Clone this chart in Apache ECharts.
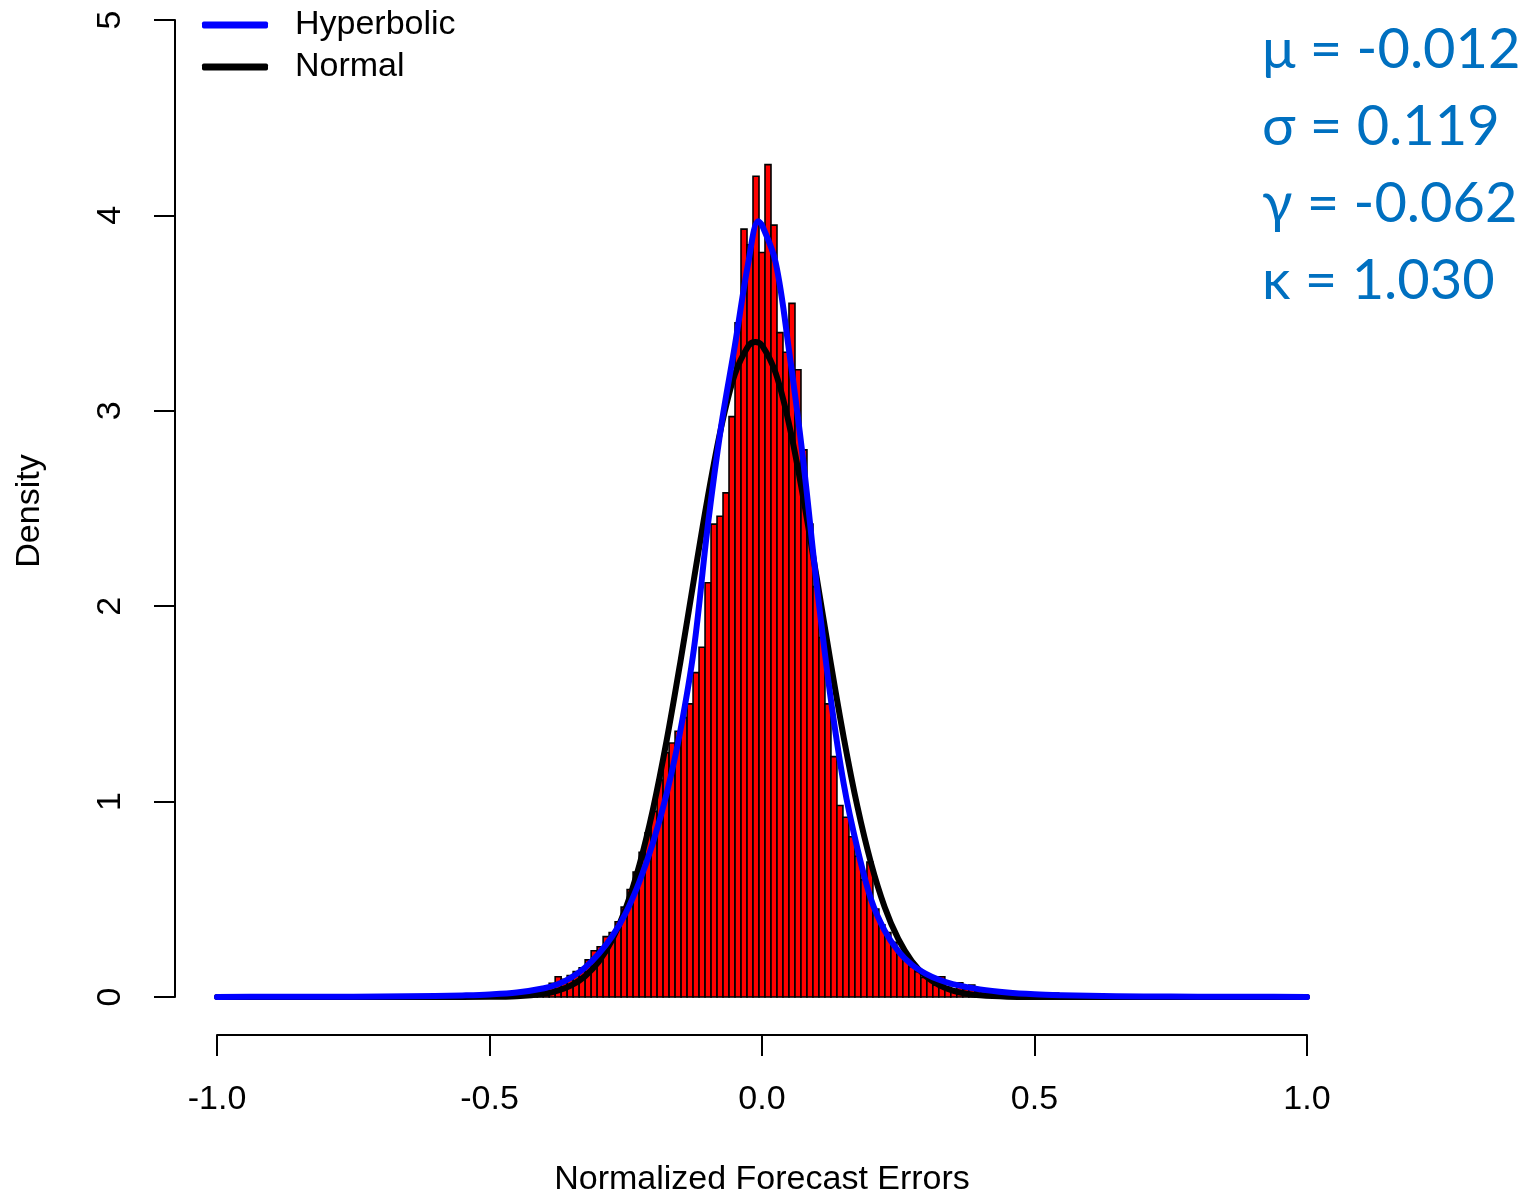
<!DOCTYPE html>
<html>
<head>
<meta charset="utf-8">
<script src="https://cdn.jsdelivr.net/npm/echarts@6/dist/echarts.min.js"></script>
<style>
  html, body { margin: 0; padding: 0; background: #ffffff; }
  #chart { width: 1532px; height: 1196px; }
</style>
</head>
<body>
<div id="chart"></div>
<script>
// Histogram of normalized forecast errors (density scale) with two fitted densities.

// histogram bins: equal width, first bin centred at firstBinCenter
const binWidth = 0.011;
const firstBinCenter = -0.44;
const binDensity = [
  0.005, 0.01, 0.015, 0.025, 0.04, 0.07, 0.104, 0.09, 0.11, 0.13,
  0.15, 0.19, 0.237, 0.257, 0.309, 0.33, 0.385, 0.46, 0.55, 0.64,
  0.74, 0.84, 0.95, 1.11, 1.25, 1.30, 1.36, 1.43, 1.50, 1.66,
  1.79, 2.12, 2.42, 2.46, 2.58, 2.97, 3.45, 3.93, 3.85, 4.20,
  3.81, 4.26, 3.95, 3.40, 3.30, 3.55, 3.21, 2.80, 2.42, 2.10,
  1.84, 1.50, 1.23, 0.98, 0.92, 0.82, 0.72, 0.60, 0.69, 0.45,
  0.37, 0.33, 0.28, 0.22, 0.19, 0.155, 0.13, 0.10, 0.085, 0.06,
  0.104, 0.05, 0.04, 0.073, 0.04, 0.061, 0.03, 0.02, 0.012, 0.008,
  0.005, 0.004, 0.003, 0.002, 0.003, 0.001, 0.001, 0.001, 0.001, 0.02
];

// fitted normal density
const normalX = [-1.0, -0.8, -0.6, -0.5, -0.45, -0.4, -0.375, -0.35, -0.325, -0.3,
  -0.275, -0.25, -0.225, -0.2, -0.175, -0.15, -0.125, -0.1, -0.075, -0.05,
  -0.025, -0.0125, 0.0, 0.025, 0.05, 0.075, 0.1, 0.125, 0.15, 0.175,
  0.2, 0.225, 0.25, 0.275, 0.3, 0.325, 0.35, 0.375, 0.4, 0.45,
  0.5, 0.6, 0.8, 1.0];
const normalY = [0, 0, 0.0002, 0.0007, 0.0038, 0.0165, 0.032, 0.0594, 0.1056, 0.179,
  0.292, 0.454, 0.675, 0.962, 1.312, 1.711, 2.136, 2.550, 2.914, 3.185,
  3.332, 3.352, 3.335, 3.194, 2.927, 2.566, 2.153, 1.728, 1.327, 0.975,
  0.686, 0.461, 0.297, 0.183, 0.108, 0.0608, 0.0328, 0.0169, 0.0084, 0.0018,
  0.0003, 0, 0, 0];

// fitted hyperbolic density
const hypX = [-1.0, -0.9, -0.8, -0.7, -0.6, -0.55, -0.5, -0.45, -0.4, -0.375,
  -0.35, -0.325, -0.3, -0.275, -0.25, -0.225, -0.2, -0.175, -0.15, -0.125,
  -0.1, -0.075, -0.05, -0.025, -0.007, 0.0, 0.025, 0.05, 0.075, 0.1,
  0.125, 0.15, 0.175, 0.2, 0.225, 0.25, 0.275, 0.3, 0.325, 0.35,
  0.4, 0.45, 0.5, 0.55, 0.6, 0.7, 0.8, 0.9, 1.0];
const hypY = [0.0005, 0.0008, 0.0014, 0.0026, 0.005, 0.008, 0.013, 0.023, 0.045, 0.065,
  0.10, 0.15, 0.22, 0.31, 0.43, 0.59, 0.79, 1.04, 1.36, 1.78,
  2.40, 2.92, 3.33, 3.76, 3.97, 3.95, 3.76, 3.30, 2.76, 2.12,
  1.55, 1.09, 0.76, 0.50, 0.34, 0.235, 0.165, 0.12, 0.088, 0.066,
  0.039, 0.023, 0.014, 0.009, 0.006, 0.0028, 0.0014, 0.0008, 0.0005];

const seriesNames = ['Hyperbolic', 'Normal'];
const xTitle = 'Normalized Forecast Errors';
const yTitle = 'Density';
const fitStats = ['\u03bc = -0.012', '\u03c3 = 0.119', '\u03b3 = -0.062', '\u03ba = 1.030'];

const histData = binDensity.map(function (d, i) {
  const c = firstBinCenter + i * binWidth;
  return [c - binWidth / 2, c + binWidth / 2, d];
});
const normalData = normalX.map(function (x, i) { return [x, normalY[i]]; });
const hypData = hypX.map(function (x, i) { return [x, hypY[i]]; });

const FONT = '"Liberation Sans", Arial, sans-serif';
const STAT_FONT = '56px Lato, "Open Sans", sans-serif';

const chart = echarts.init(document.getElementById('chart'), null, { renderer: 'canvas' });

chart.setOption({
  backgroundColor: '#ffffff',
  animation: false,
  grid: { left: 217, right: 225, top: 20, bottom: 199, containLabel: false },
  legend: {
    orient: 'vertical',
    left: 202,
    top: 7,
    padding: 0,
    itemWidth: 66,
    itemHeight: 7,
    itemGap: 6,
    icon: 'roundRect',
    data: seriesNames,
    textStyle: { fontFamily: FONT, fontSize: 34, color: '#000', lineHeight: 36, padding: [0, 0, 0, 22] }
  },
  xAxis: {
    type: 'value',
    min: -1,
    max: 1,
    interval: 0.5,
    offset: 38,
    splitLine: { show: false },
    axisLine: { show: true, onZero: false, lineStyle: { color: '#000', width: 2 } },
    axisTick: { show: true, length: 21, lineStyle: { color: '#000', width: 2 } },
    axisLabel: {
      margin: 48,
      fontFamily: FONT,
      fontSize: 34,
      color: '#000',
      formatter: function (v) { return v.toFixed(1); }
    }
  },
  yAxis: {
    type: 'value',
    min: 0,
    max: 5,
    interval: 1,
    offset: 42,
    splitLine: { show: false },
    axisLine: { show: true, onZero: false, lineStyle: { color: '#000', width: 2 } },
    axisTick: { show: true, length: 21, lineStyle: { color: '#000', width: 2 } },
    axisLabel: {
      rotate: 90,
      margin: 47,
      fontFamily: FONT,
      fontSize: 34,
      color: '#000'
    }
  },
  series: [
    {
      type: 'custom',
      name: 'hist',
      z: 1,
      encode: { x: [0, 1], y: 2 },
      data: histData,
      renderItem: function (params, api) {
        const top = api.coord([api.value(0), api.value(2)]);
        const bot = api.coord([api.value(1), 0]);
        return {
          type: 'rect',
          shape: { x: top[0], y: top[1], width: bot[0] - top[0], height: bot[1] - top[1] },
          style: { fill: '#ff0000', stroke: '#000000', lineWidth: 1.6 }
        };
      }
    },
    {
      type: 'line',
      name: 'Normal',
      z: 3,
      data: normalData,
      smooth: 0.35,
      showSymbol: false,
      color: '#000000',
      lineStyle: { color: '#000000', width: 6, cap: 'round', join: 'round' }
    },
    {
      type: 'line',
      name: 'Hyperbolic',
      z: 4,
      data: hypData,
      smooth: 0.35,
      showSymbol: false,
      color: '#0000ff',
      lineStyle: { color: '#0000ff', width: 6, cap: 'round', join: 'round' }
    }
  ],
  graphic: [
    {
      type: 'text', x: 762, y: 1180,
      style: { text: xTitle, font: '34px ' + FONT, fill: '#000', align: 'center', verticalAlign: 'middle' }
    },
    {
      type: 'text', x: 30, y: 511, rotation: Math.PI / 2,
      style: { text: yTitle, font: '34px ' + FONT, fill: '#000', align: 'center', verticalAlign: 'middle' }
    },
    {
      type: 'text', x: 1262, y: 50,
      style: { text: fitStats[0], font: STAT_FONT, fill: '#0070c0', verticalAlign: 'middle' }
    },
    {
      type: 'text', x: 1262, y: 127,
      style: { text: fitStats[1], font: STAT_FONT, fill: '#0070c0', verticalAlign: 'middle' }
    },
    {
      type: 'text', x: 1262, y: 204,
      style: { text: fitStats[2], font: STAT_FONT, fill: '#0070c0', verticalAlign: 'middle' }
    },
    {
      type: 'text', x: 1262, y: 281,
      style: { text: fitStats[3], font: STAT_FONT, fill: '#0070c0', verticalAlign: 'middle' }
    }
  ]
});
</script>
</body>
</html>
